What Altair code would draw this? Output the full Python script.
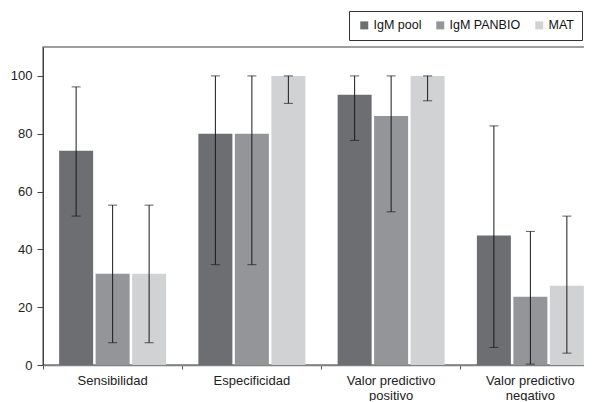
import altair as alt
import pandas as pd

categories = ["Sensibilidad", "Especificidad", "Valor predictivo positivo", "Valor predictivo negativo"]
series = ["IgM pool", "IgM PANBIO", "MAT"]
values = {
    "IgM pool": [74.1, 80.0, 93.5, 44.8],
    "IgM PANBIO": [31.6, 80.0, 86.1, 23.6],
    "MAT": [31.6, 100.0, 100.0, 27.4],
}
lows = {
    "IgM pool": [51.5, 34.7, 77.7, 6.1],
    "IgM PANBIO": [7.7, 34.7, 53.0, 0.3],
    "MAT": [7.7, 90.5, 91.4, 4.1],
}
highs = {
    "IgM pool": [96.2, 100.0, 100.0, 82.7],
    "IgM PANBIO": [55.3, 100.0, 100.0, 46.2],
    "MAT": [55.3, 100.0, 100.0, 51.5],
}
colors = ["#6d6e71", "#939598", "#d1d2d4"]
y_ticks = [0, 20, 40, 60, 80, 100]

rows = []
for s in series:
    for i, c in enumerate(categories):
        rows.append(dict(cat=c, serie=s, val=values[s][i], lo=lows[s][i], hi=highs[s][i]))
df = pd.DataFrame(rows)

FONT = "Liberation Sans"

x = alt.X(
    "cat:N", sort=categories,
    scale=alt.Scale(paddingInner=0, paddingOuter=0),
    axis=alt.Axis(
        title=None, labelAngle=0, bandPosition=0, tickSize=4, tickColor="#555",
        labelExpr="split(replace(datum.label, 'predictivo ', 'predictivo|'), '|')",
        labelFontSize=13, labelLineHeight=15, labelPadding=5, labelColor="#222",
        domainColor="#808080", domainWidth=1.5, labelFont=FONT,
    ),
)
xo = alt.XOffset("serie:N", sort=series, scale=alt.Scale(paddingInner=0.068, paddingOuter=0.442))

base = alt.Chart(df).encode(x=x, xOffset=xo)

bars = base.mark_bar().encode(
    y=alt.Y(
        "val:Q",
        scale=alt.Scale(domain=[0, 110], nice=False),
        axis=alt.Axis(
            values=y_ticks, title=None, grid=False, tickSize=6, tickColor="#444",
            labelFontSize=13, labelColor="#222", labelPadding=5, labelFont=FONT,
            domainColor="#444",
        ),
    ),
    color=alt.Color(
        "serie:N", sort=series,
        scale=alt.Scale(domain=series, range=colors),
        legend=alt.Legend(
            title=None, orient="none", legendX=306, legendY=-36, direction="horizontal",
            columns=3, symbolType="square", symbolSize=64, symbolStrokeWidth=0,
            labelFontSize=12.5, labelFont=FONT, labelColor="#111", labelOffset=3,
            columnPadding=11, padding=8, strokeColor="#333", symbolOffset=1,
        ),
    ),
)

rules = base.mark_rule(color="#1a1a1a", strokeWidth=1).encode(y="lo:Q", y2="hi:Q")
caps_lo = base.mark_tick(color="#1a1a1a", size=9, thickness=1, orient="horizontal").encode(y="lo:Q")
caps_hi = base.mark_tick(color="#1a1a1a", size=9, thickness=1, orient="horizontal").encode(y="hi:Q")

chart = (
    alt.layer(bars, rules, caps_lo, caps_hi)
    .properties(
        width=557, height=318,
        autosize=alt.AutoSizeParams(type="none"),
        padding={"left": 35, "top": 39, "right": -16, "bottom": 36},
    )
    .configure(font=FONT)
    .configure_view(stroke="#7f7f7f", strokeWidth=1.5)
)

chart.save("out.html", embed_options={"renderer": "svg", "actions": False})
